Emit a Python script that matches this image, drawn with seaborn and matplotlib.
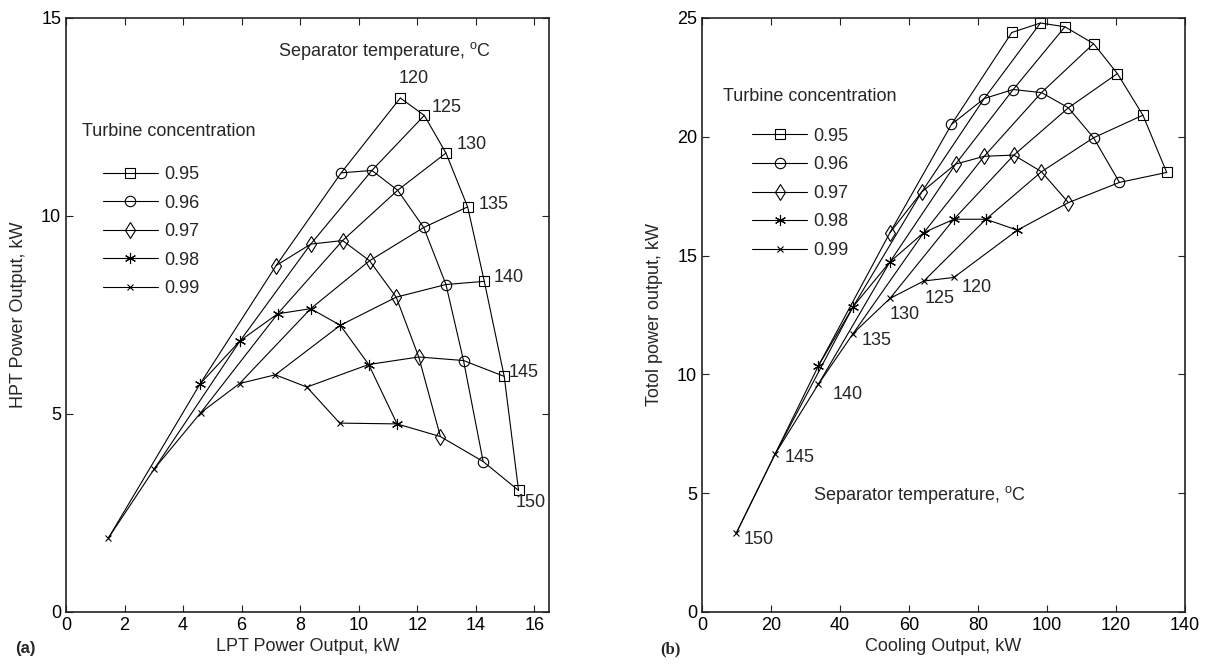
import numpy as np
import pandas as pd
import matplotlib
matplotlib.use("Agg")
import matplotlib.pyplot as plt
import seaborn as sns

# ---------------- data ----------------
temps = [120, 125, 130, 135, 140, 145, 150]
concs = ["0.95", "0.96", "0.97", "0.98", "0.99"]

# panel (a): LPT power (x) and HPT power (y), kW
lpt_095 = [11.42, 12.24, 12.98, 13.72, 14.29, 14.97, 15.46]
hpt_095 = [12.98, 12.54, 11.59, 10.23, 8.35, 5.95, 3.07]
lpt_096 = [9.40, 10.45, 11.33, 12.22, 12.98, 13.58, 14.25]
hpt_096 = [11.09, 11.15, 10.65, 9.71, 8.27, 6.35, 3.80]
lpt_097 = [7.18, 8.36, 9.45, 10.37, 11.28, 12.05, 12.79]
hpt_097 = [8.75, 9.29, 9.38, 8.87, 7.95, 6.44, 4.43]
lpt_098 = [4.58, 5.95, 7.23, 8.36, 9.37, 10.34, 11.31]
hpt_098 = [5.76, 6.85, 7.53, 7.66, 7.24, 6.25, 4.75]
lpt_099 = [1.45, 3.02, 4.60, 5.93, 7.15, 8.23, 9.35]
hpt_099 = [1.87, 3.62, 5.03, 5.77, 5.99, 5.68, 4.77]

# panel (b): cooling output (x) and total power output (y), kW
cool_095 = [89.8, 98.1, 105.2, 113.5, 120.4, 127.8, 134.7]
tot_095 = [24.39, 24.79, 24.63, 23.92, 22.66, 20.91, 18.50]
cool_096 = [72.3, 81.8, 90.2, 98.4, 106.2, 113.5, 121.0]
tot_096 = [20.52, 21.61, 21.99, 21.86, 21.22, 19.96, 18.08]
cool_097 = [54.5, 63.7, 73.5, 81.8, 90.4, 98.4, 106.2]
tot_097 = [15.97, 17.68, 18.85, 19.18, 19.23, 18.53, 17.23]
cool_098 = [33.7, 43.8, 54.5, 64.3, 73.0, 82.3, 91.4]
tot_098 = [10.35, 12.85, 14.74, 15.97, 16.53, 16.53, 16.07]
cool_099 = [9.9, 21.2, 33.7, 43.8, 54.5, 64.3, 73.0]
tot_099 = [3.31, 6.65, 9.58, 11.72, 13.20, 13.93, 14.08]

lpt = [lpt_095, lpt_096, lpt_097, lpt_098, lpt_099]
hpt = [hpt_095, hpt_096, hpt_097, hpt_098, hpt_099]
cool = [cool_095, cool_096, cool_097, cool_098, cool_099]
tot = [tot_095, tot_096, tot_097, tot_098, tot_099]

rows = []
for i, c in enumerate(concs):
    for j, t in enumerate(temps):
        rows.append(dict(conc=c, temp=t, lpt=lpt[i][j], hpt=hpt[i][j],
                         cool=cool[i][j], tot=tot[i][j]))
df = pd.DataFrame(rows)

# ---------------- style ----------------
sns.set_style("ticks")
plt.rcParams.update({
    "font.family": ["Liberation Sans", "DejaVu Sans"],
    "font.size": 13,
    "mathtext.fontset": "custom",
    "mathtext.rm": "Liberation Sans",
    "mathtext.it": "Liberation Sans:italic",
    "mathtext.bf": "Liberation Sans:bold",
    "xtick.direction": "in", "ytick.direction": "in",
    "xtick.top": True, "ytick.right": True,
    "xtick.major.size": 5, "ytick.major.size": 5,
    "xtick.major.width": 0.8, "ytick.major.width": 0.8,
    "axes.edgecolor": "#222222", "axes.linewidth": 1.2,
    "xtick.color": "#222222", "ytick.color": "#222222",
    "xtick.labelcolor": "black", "ytick.labelcolor": "black",
    "xtick.labelsize": 13, "ytick.labelsize": 13,
    "axes.labelsize": 13,
})

markers = ["s", "o", "d", (6, 2, 0), "x"]
msizes = [7.5, 7.5, 8.5, 8, 5]

W, H = 1209, 667
fig = plt.figure(figsize=(W / 100, H / 100), dpi=100)
axL = fig.add_axes([66 / W, 55 / H, 483 / W, 594 / H])
axR = fig.add_axes([702 / W, 55 / H, 483 / W, 594 / H])


def draw(ax, xcol, ycol):
    sns.lineplot(data=df, x=xcol, y=ycol, units="temp", estimator=None,
                 sort=False, color="k", lw=0.8, ax=ax, legend=False)
    handles = []
    for c, m, ms in zip(concs, markers, msizes):
        sub = df[df["conc"] == c]
        sns.lineplot(data=sub, x=xcol, y=ycol, sort=False, estimator=None,
                     color="k", lw=0.8, marker=m, markersize=ms,
                     mfc="none", mec="k", mew=0.8, ax=ax, legend=False)
        handles.append(ax.lines[-1])
    return handles


# ---------- panel (a) ----------
hL = draw(axL, "lpt", "hpt")
axL.set_xlim(0, 16.5)
axL.set_ylim(0, 15)
axL.set_xticks(np.arange(0, 17, 2))
axL.set_yticks([0, 5, 10, 15])
axL.set_xlabel("LPT Power Output, kW", labelpad=3)
axL.set_ylabel("HPT Power Output, kW", labelpad=10)

offL = [(-2, 19), (7, 8), (11, 9), (11, 2), (9, 4), (4, 4), (-3, -12)]
for j, t in enumerate(temps):
    axL.annotate(str(t), (lpt_095[j], hpt_095[j]), xytext=offL[j],
                 textcoords="offset pixels", ha="left", va="center")
axL.text(7.25, 14.16, r"Separator temperature, $^{\mathrm{o}}$C",
         ha="left", va="center")
axL.text(0.54, 12.14, "Turbine concentration", ha="left", va="center")
axL.legend(hL, concs, loc="upper left", bbox_to_anchor=(1.25, 11.26),
           bbox_transform=axL.transData, frameon=False, borderpad=0,
           borderaxespad=0, handlelength=3.05, handletextpad=0.35,
           labelspacing=0.64)

# ---------- panel (b) ----------
hR = draw(axR, "cool", "tot")
axR.set_xlim(0, 140)
axR.set_ylim(0, 25)
axR.set_xticks(np.arange(0, 141, 20))
axR.set_yticks([0, 5, 10, 15, 20, 25])
axR.set_xlabel("Cooling Output, kW", labelpad=3)
axR.set_ylabel("Totol power output, kW", labelpad=10)

offR = [(8, -10), (1, -17), (0, -16), (9, -7), (14, -10), (9, -4), (7, -6)]
for j, t in enumerate(temps):
    k = len(temps) - 1 - j
    axR.annotate(str(t), (cool_099[k], tot_099[k]), xytext=offR[j],
                 textcoords="offset pixels", ha="left", va="center")
axR.text(32.2, 4.92, r"Separator temperature, $^{\mathrm{o}}$C",
         ha="left", va="center")
axR.text(6.0, 21.69, "Turbine concentration", ha="left", va="center")
axR.legend(hR, concs, loc="upper left", bbox_to_anchor=(14.5, 20.38),
           bbox_transform=axR.transData, frameon=False, borderpad=0,
           borderaxespad=0, handlelength=3.05, handletextpad=0.35,
           labelspacing=0.64)

fig.text(15 / W, 1 - 648 / H, "(a)", ha="left", va="center",
         fontsize=12, fontweight="bold")
fig.text(660 / W, 1 - 649 / H, "(b)", ha="left", va="center",
         fontsize=12, fontweight="bold",
         family=["Liberation Serif", "DejaVu Serif"])

fig.savefig("out.png", dpi=100)
